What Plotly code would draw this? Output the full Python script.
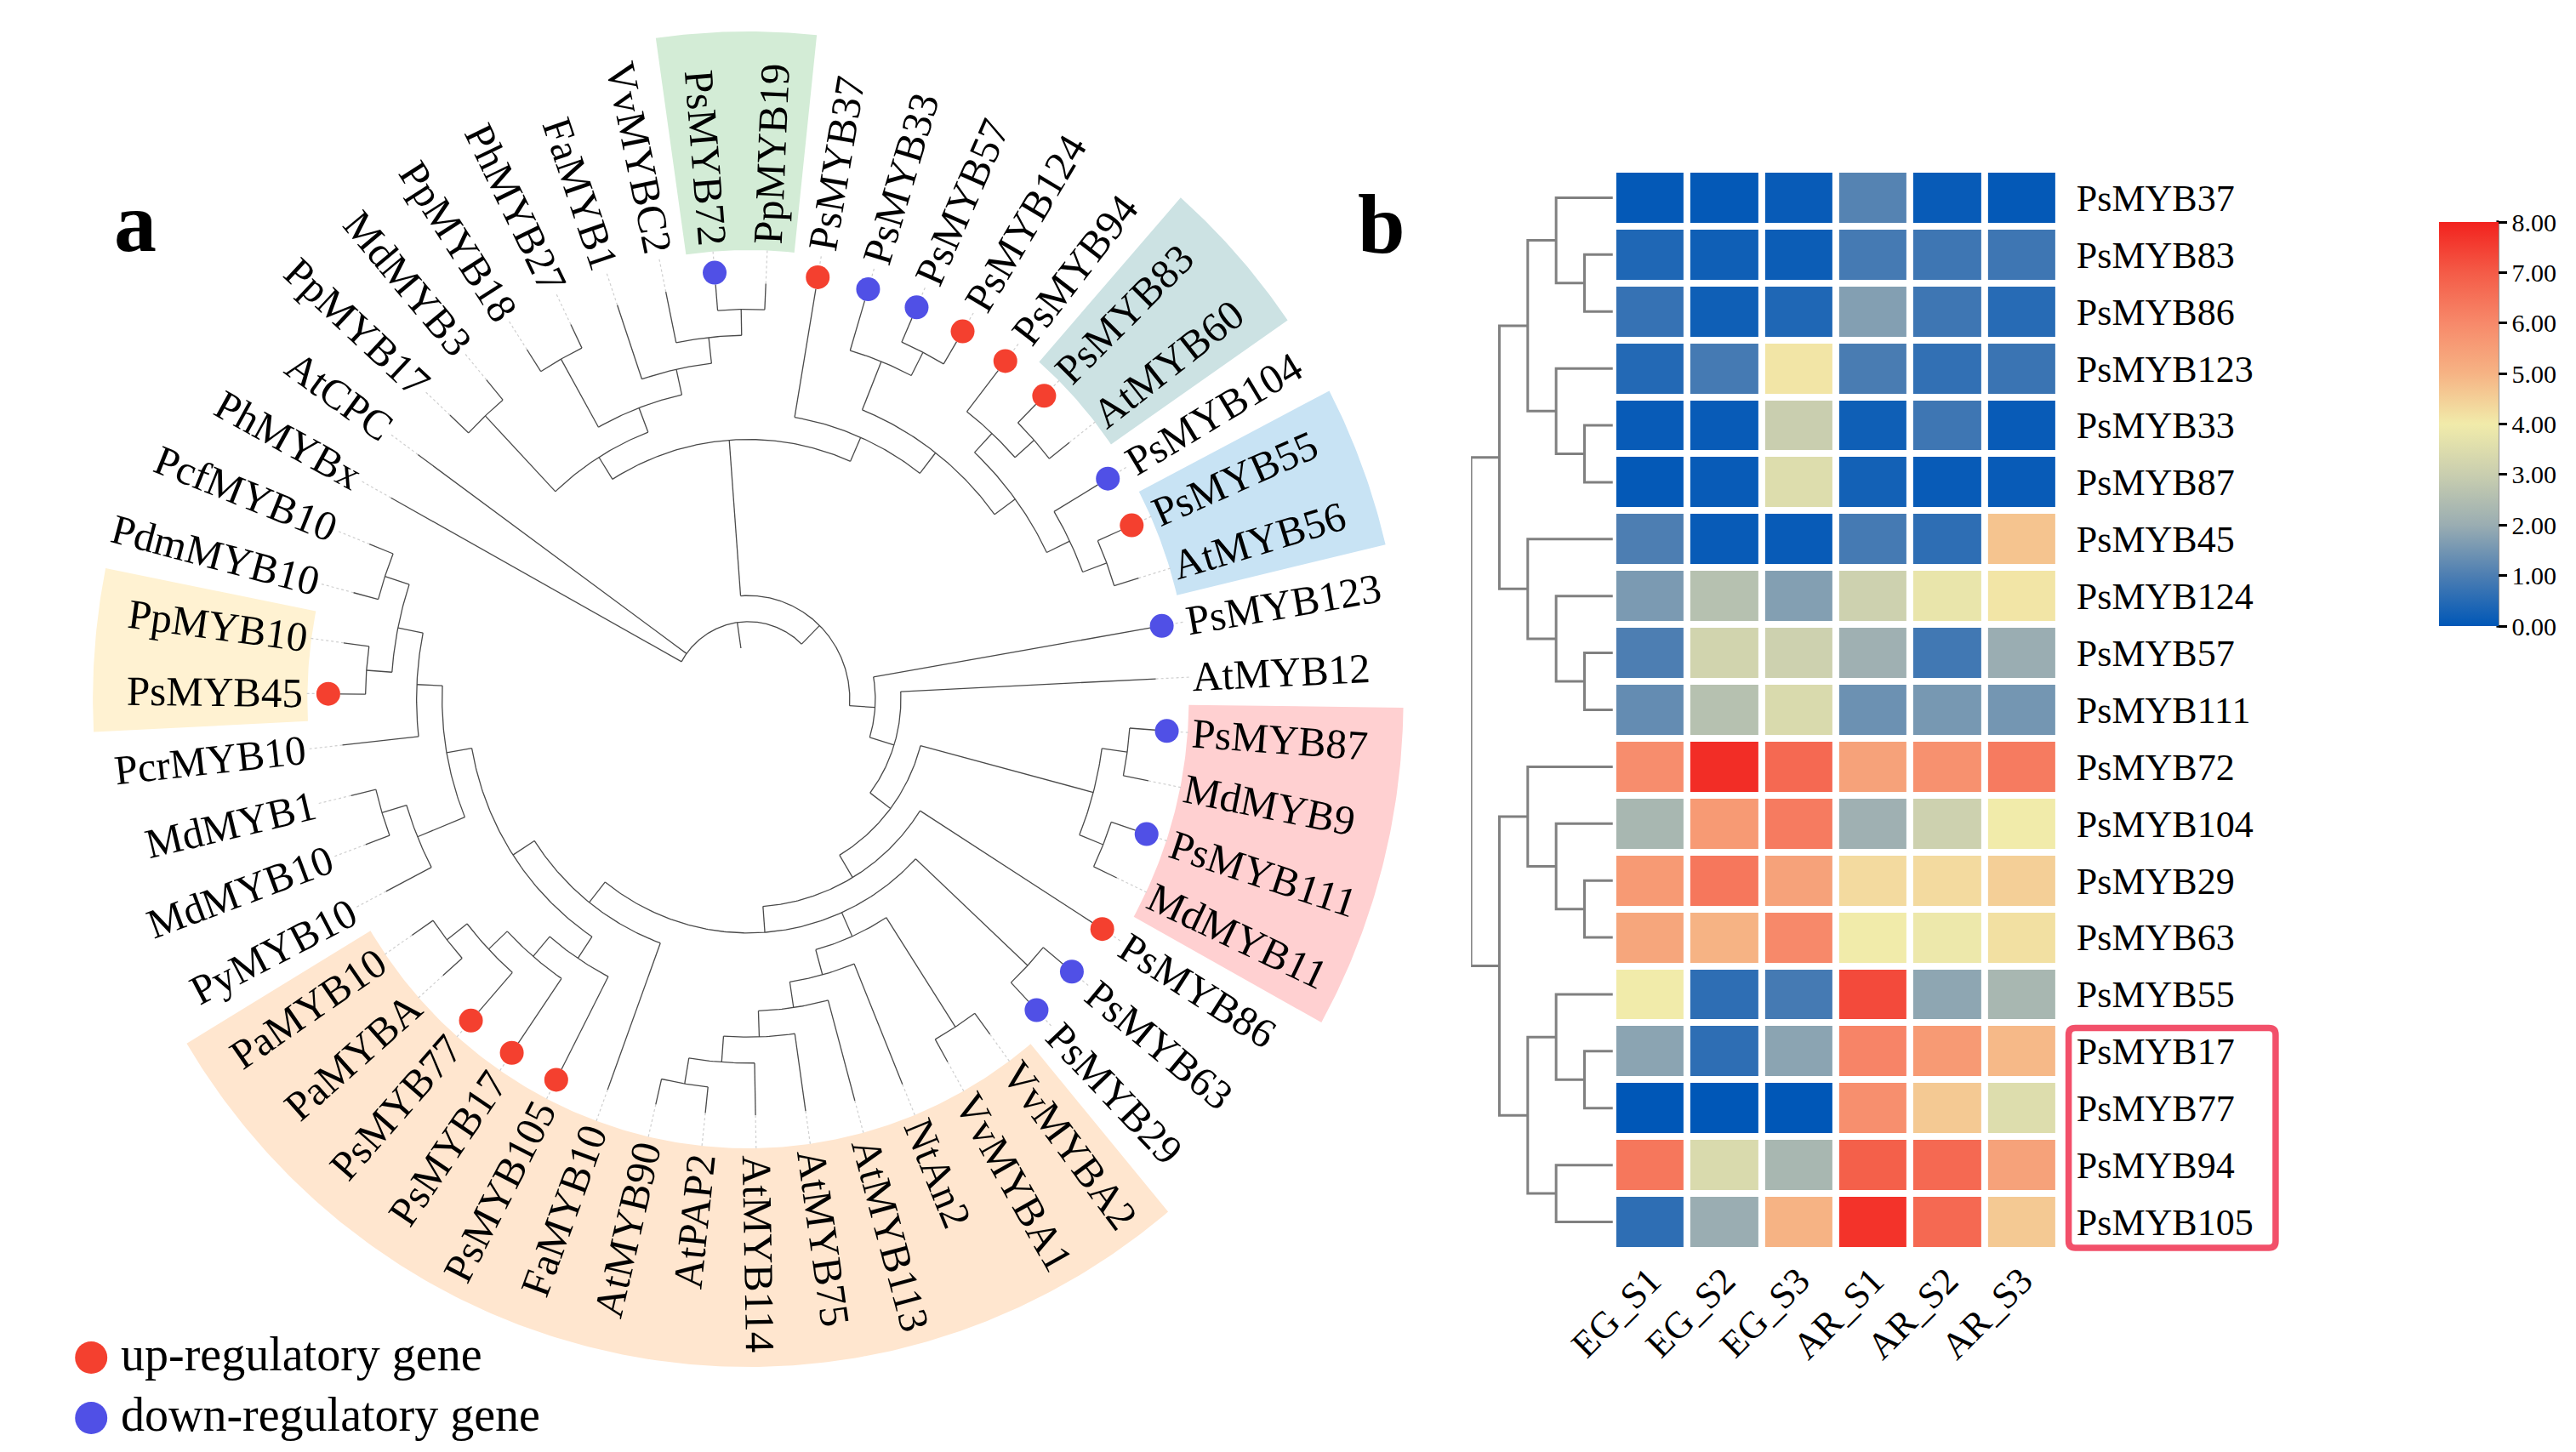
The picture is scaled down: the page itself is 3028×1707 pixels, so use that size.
import math
import plotly.graph_objects as go

W, H = 3028, 1707
SERIF = "Liberation Serif"

# =============================== DATA ===============================
# ---- panel a: cladogram (tips listed counter-clockwise in tree order)
tip_order = [
    "PcfMYB10", "PdmMYB10", "PpMYB10", "PsMYB45", "PcrMYB10", "MdMYB1", "MdMYB10",
    "PyMYB10", "PaMYB10", "PaMYBA", "PsMYB77", "PsMYB17", "PsMYB105", "FaMYB10",
    "AtMYB90", "AtPAP2", "AtMYB114", "AtMYB75", "AtMYB113", "NtAn2", "VvMYBA1",
    "VvMYBA2", "PsMYB29", "PsMYB63", "PsMYB86", "MdMYB11", "PsMYB111", "MdMYB9",
    "PsMYB87", "AtMYB12", "PsMYB123", "AtMYB56", "PsMYB55", "PsMYB104", "AtMYB60",
    "PsMYB83", "PsMYB94", "PsMYB124", "PsMYB57", "PsMYB33", "PsMYB37", "PpMYB19",
    "PsMYB72", "VvMYBC2", "FaMYB1", "PhMYB27", "PpMYB18", "MdMYB3", "PpMYB17",
    "AtCPC", "PhMYBx",
]
tree_newick = (
    "((PhMYBx,AtCPC,("
    "(((PpMYB17,MdMYB3),((PpMYB18,PhMYB27),(FaMYB1,(VvMYBC2,(PsMYB72,PpMYB19))))),"
    "(PsMYB37,((PsMYB33,(PsMYB57,PsMYB124)),((PsMYB94,(PsMYB83,AtMYB60)),"
    "(PsMYB104,(PsMYB55,AtMYB56)))))),"
    "(PsMYB123,(AtMYB12,(((PsMYB87,MdMYB9),(PsMYB111,MdMYB11)),(PsMYB86,"
    "((PsMYB63,PsMYB29),((((((PcfMYB10,PdmMYB10),(PpMYB10,PsMYB45)),PcrMYB10),"
    "((MdMYB1,MdMYB10),PyMYB10)),(PsMYB105,(PsMYB17,(PsMYB77,(PaMYBA,PaMYB10))))),FaMYB10),"
    "((VvMYBA2,VvMYBA1),(NtAn2,(AtMYB113,(AtMYB75,(AtMYB114,(AtMYB90,AtPAP2))))))))))))"
    ")));"
)
up_genes = ["PsMYB37", "PsMYB124", "PsMYB94", "PsMYB83", "PsMYB55", "PsMYB86",
            "PsMYB45", "PsMYB77", "PsMYB17", "PsMYB105"]
down_genes = ["PsMYB72", "PsMYB33", "PsMYB57", "PsMYB104", "PsMYB123", "PsMYB87",
              "PsMYB111", "PsMYB63", "PsMYB29"]
hilight_first = ["PpMYB19", "PsMYB83", "PsMYB55", "MdMYB11", "PpMYB10", "PaMYB10"]
hilight_last = ["PsMYB72", "AtMYB60", "AtMYB56", "PsMYB87", "PsMYB45", "VvMYBA2"]
hilight_color = ["#D3ECD6", "#CCE2E3", "#C8E3F4", "#FFD0D1", "#FFF2D2", "#FFE6CF"]
legend_labels = ["up-regulatory gene", "down-regulatory gene"]

# ---- panel b: heatmap
hm_genes = ["PsMYB37", "PsMYB83", "PsMYB86", "PsMYB123", "PsMYB33", "PsMYB87", "PsMYB45",
            "PsMYB124", "PsMYB57", "PsMYB111", "PsMYB72", "PsMYB104", "PsMYB29", "PsMYB63",
            "PsMYB55", "PsMYB17", "PsMYB77", "PsMYB94", "PsMYB105"]
hm_samples = ["EG_S1", "EG_S2", "EG_S3", "AR_S1", "AR_S2", "AR_S3"]
eg_s1 = [0.05, 0.40, 0.70, 0.45, 0.10, 0.05, 1.00, 1.60, 1.00, 1.30,
         5.90, 2.30, 5.60, 5.30, 4.00, 1.80, 0.00, 6.40, 0.60]
eg_s2 = [0.05, 0.20, 0.20, 0.90, 0.10, 0.10, 0.10, 2.60, 3.20, 2.60,
         7.80, 5.60, 6.40, 5.00, 0.60, 0.60, 0.00, 3.40, 2.00]
eg_s3 = [0.10, 0.15, 0.40, 4.10, 3.00, 3.50, 0.10, 1.70, 3.10, 3.40,
         6.70, 6.30, 5.40, 6.00, 0.90, 1.80, 0.00, 2.30, 5.00]
ar_s1 = [1.10, 0.90, 1.70, 0.95, 0.20, 0.25, 0.90, 3.10, 2.10, 1.40,
         5.40, 2.10, 4.30, 4.00, 7.30, 6.10, 5.85, 6.90, 7.70]
ar_s2 = [0.10, 0.80, 0.80, 0.65, 0.80, 0.10, 0.60, 3.80, 0.85, 1.55,
         5.80, 3.10, 4.30, 3.90, 1.85, 5.60, 4.60, 6.70, 6.70]
ar_s3 = [0.05, 0.80, 0.50, 0.75, 0.10, 0.10, 4.70, 4.10, 2.00, 1.50,
         6.30, 4.00, 4.50, 4.20, 2.30, 4.90, 3.50, 5.40, 4.60]
# row dendrogram merges: (left, right, height); merged nodes are named m0, m1, ...
hm_merges = [
    ("PsMYB83", "PsMYB86", 1), ("PsMYB37", "m0", 2), ("PsMYB33", "PsMYB87", 1),
    ("PsMYB123", "m2", 2), ("m1", "m3", 3), ("PsMYB57", "PsMYB111", 1),
    ("PsMYB124", "m5", 2), ("PsMYB45", "m6", 3), ("m4", "m7", 4),
    ("PsMYB29", "PsMYB63", 1), ("PsMYB104", "m9", 2), ("PsMYB72", "m10", 3),
    ("PsMYB17", "PsMYB77", 1), ("PsMYB55", "m12", 2), ("PsMYB94", "PsMYB105", 2),
    ("m13", "m14", 3), ("m11", "m15", 4), ("m8", "m16", 5),
]
boxed_genes = ["PsMYB17", "PsMYB77", "PsMYB94", "PsMYB105"]
cb_ticks = [0, 1, 2, 3, 4, 5, 6, 7, 8]

# ============================== LAYOUT ==============================
CX, CY = 830, 814          # tree centre (px)
TIP_START = 158.1          # angle of first tip (deg, ccw)
R_TIP, R_STEP = 489, 30.6  # cladogram radii
R_DOT, R_LABEL = 503, 535
R_HL_IN, R_HL_OUT = 528, 785
LABEL_SIZE = 49

HM_X0, HM_X1 = 1866, 2400
HM_Y0, HM_Y1 = 191, 1462
DEN_X0 = 1696

TIMES_W = {"P": .556, "s": .389, "M": .889, "Y": .722, "B": .667, "A": .722, "t": .278,
           "C": .667, "h": .5, "x": .5, "d": .5, "c": .444, "f": .333, "r": .333, "y": .5,
           "a": .444, "F": .556, "V": .722, "v": .5, "N": .722, "n": .5, "m": .778,
           "p": .5, "e": .444, "g": .5, "u": .5, "l": .278, "o": .5, "-": .333, " ": .25}


def text_w(s, size):
    return sum(TIMES_W.get(ch, 0.5) for ch in s) * size


def parse_newick(s):
    s = s.strip().rstrip(";")
    pos = 0

    def read():
        nonlocal pos
        if s[pos] == "(":
            pos += 1
            kids = [read()]
            while s[pos] == ",":
                pos += 1
                kids.append(read())
            pos += 1
            return {"name": None, "kids": kids}
        st = pos
        while pos < len(s) and s[pos] not in ",()":
            pos += 1
        return {"name": s[st:pos], "kids": []}

    return read()


root = parse_newick(tree_newick)
d_ang = 360.0 / len(tip_order)
tip_ang = {n: TIP_START + i * d_ang for i, n in enumerate(tip_order)}


def place(nd):
    if not nd["kids"]:
        nd["h"] = 0
        nd["a"] = tip_ang[nd["name"]]
    else:
        for k in nd["kids"]:
            place(k)
        nd["h"] = 1 + max(k["h"] for k in nd["kids"])
        angs = [k["a"] for k in nd["kids"]]
        nd["a"] = 0.5 * (min(angs) + max(angs))
    nd["r"] = R_TIP - nd["h"] * R_STEP


place(root)


def pol(r, a):
    t = math.radians(a)
    return CX + r * math.cos(t), CY - r * math.sin(t)


def arc(r, a0, a1, step=0.5):
    n = max(2, int(abs(a1 - a0) / step) + 1)
    return [pol(r, a0 + (a1 - a0) * j / n) for j in range(n + 1)]


bx, by = [], []


def draw(nd):
    if not nd["kids"]:
        return
    angs = [k["a"] for k in nd["kids"]]
    lo, hi = min(angs), max(angs)
    if hi - lo > 1e-9:
        for x, y in arc(nd["r"], lo, hi):
            bx.append(x)
            by.append(y)
        bx.append(None)
        by.append(None)
    for k in nd["kids"]:
        x0, y0 = pol(nd["r"], k["a"])
        x1, y1 = pol(k["r"], k["a"])
        bx.extend([x0, x1, None])
        by.extend([y0, y1, None])
        draw(k)


draw(root)

fig = go.Figure()

# highlight sectors
for f, l, col in zip(hilight_first, hilight_last, hilight_color):
    a0 = min(tip_ang[f], tip_ang[l]) - d_ang / 2
    a1 = max(tip_ang[f], tip_ang[l]) + d_ang / 2
    pts = arc(R_HL_OUT, a0, a1) + arc(R_HL_IN, a1, a0)
    fig.add_trace(go.Scatter(x=[p[0] for p in pts], y=[p[1] for p in pts], mode="lines",
                             fill="toself", fillcolor=col, line=dict(width=0),
                             hoverinfo="skip", xaxis="x", yaxis="y"))

# dotted connectors tip -> label
cx_, cy_ = [], []
for n in tip_order:
    x0, y0 = pol(R_TIP, tip_ang[n])
    x1, y1 = pol(R_LABEL - 4, tip_ang[n])
    cx_ += [x0, x1, None]
    cy_ += [y0, y1, None]
fig.add_trace(go.Scatter(x=cx_, y=cy_, mode="lines",
                         line=dict(color="#cfcfcf", width=1.2, dash="dot"),
                         hoverinfo="skip", xaxis="x", yaxis="y"))

# branches
fig.add_trace(go.Scatter(x=bx, y=by, mode="lines", line=dict(color="#4a4a4a", width=1.3),
                         hoverinfo="skip", xaxis="x", yaxis="y"))

# tip points
UP_COL, DOWN_COL = "#F4402F", "#5050E6"
for genes, col in ((up_genes, UP_COL), (down_genes, DOWN_COL)):
    pts = [pol(R_DOT, tip_ang[g]) for g in genes]
    fig.add_trace(go.Scatter(x=[p[0] for p in pts], y=[p[1] for p in pts], mode="markers",
                             marker=dict(size=28, color=col, line=dict(width=0)),
                             hoverinfo="skip", xaxis="x", yaxis="y"))

annotations = []
for n in tip_order:
    a = tip_ang[n]
    w = text_w(n, LABEL_SIZE)
    x, y = pol(R_LABEL + w / 2, a)
    am = a % 360
    ang = 180 - am if 90 < am < 270 else -am
    if ang <= -180:
        ang += 360
    annotations.append(dict(x=x, y=y, xref="x", yref="y", text=n, textangle=ang,
                            showarrow=False, xanchor="center", yanchor="middle",
                            font=dict(family=SERIF, size=LABEL_SIZE, color="black")))

# legend (panel a)
leg_y = [1588, 1659]
fig.add_trace(go.Scatter(x=[43, 43], y=leg_y, mode="markers",
                         marker=dict(size=38, color=[UP_COL, DOWN_COL]),
                         hoverinfo="skip", xaxis="x", yaxis="y"))
for t, yy in zip(legend_labels, leg_y):
    annotations.append(dict(x=76, y=yy - 4, xref="x", yref="y", text=t, showarrow=False,
                            xanchor="left", yanchor="middle",
                            font=dict(family=SERIF, size=56, color="black")))

# panel letters
annotations.append(dict(x=96, y=253, xref="x", yref="y", text="<b>a</b>", showarrow=False,
                        xanchor="center", yanchor="middle",
                        font=dict(family=SERIF, size=100, color="black")))
annotations.append(dict(x=1589, y=255, xref="x", yref="y", text="<b>b</b>", showarrow=False,
                        xanchor="center", yanchor="middle",
                        font=dict(family=SERIF, size=100, color="black")))

# ---------------- heatmap ----------------
hm_cols = [eg_s1, eg_s2, eg_s3, ar_s1, ar_s2, ar_s3]
z = [[col[i] for col in hm_cols] for i in range(len(hm_genes))]
colorscale = [[0.0, "#0057B7"], [0.125, "#4D7EB2"], [0.25, "#9AADB2"], [0.375, "#C9CEAF"],
              [0.5, "#F1EBAA"], [0.625, "#F6B384"], [0.75, "#F7896A"], [0.875, "#F45B47"],
              [1.0, "#F2221E"]]
CB_X0, CB_TOP, CB_BOT, CB_TH = 2856, 253, 728, 70
fig.add_trace(go.Heatmap(
    z=z, x=list(range(len(hm_samples))), y=list(range(len(hm_genes))),
    xaxis="x2", yaxis="y2", colorscale=colorscale, zmin=0, zmax=8,
    xgap=8, ygap=8, hoverinfo="skip",
    colorbar=dict(x=CB_X0 / W, xanchor="left", y=1 - CB_TOP / H, yanchor="top",
                  len=(CB_BOT - CB_TOP) / H, lenmode="fraction", thickness=CB_TH,
                  thicknessmode="pixels", xpad=0, ypad=0, outlinewidth=0,
                  tickvals=cb_ticks, ticktext=["%.2f" % v for v in cb_ticks],
                  ticks="outside", ticklen=10, tickwidth=3, tickcolor="black",
                  tickfont=dict(family=SERIF, size=30, color="black")),
))

# row dendrogram
rpos = {g: i for i, g in enumerate(hm_genes)}
rh = {g: 0 for g in hm_genes}
dxs, dys = [], []
for i, (a, b, h) in enumerate(hm_merges):
    ya, yb = rpos[a], rpos[b]
    dxs += [rh[a], h, h, rh[b], None]
    dys += [ya, ya, yb, yb, None]
    rpos["m%d" % i] = (ya + yb) / 2
    rh["m%d" % i] = h
fig.add_trace(go.Scatter(x=dxs, y=dys, mode="lines", line=dict(color="#808080", width=3),
                         hoverinfo="skip", xaxis="x3", yaxis="y3"))

# red box around highlighted genes (rounded corners)
rows = [hm_genes.index(g) for g in boxed_genes]
pitch = (HM_Y1 - HM_Y0) / len(hm_genes)
bx0, bx1 = 2412, 2660
by0 = HM_Y0 + min(rows) * pitch + 6
by1 = HM_Y0 + (max(rows) + 1) * pitch - 3
rc = 8


def P(x, y):
    return "%.6f,%.6f" % (x / W, 1 - y / H)


box_path = ("M " + P(bx0 + rc, by0) + " L " + P(bx1 - rc, by0) +
            " Q " + P(bx1, by0) + " " + P(bx1, by0 + rc) +
            " L " + P(bx1, by1 - rc) + " Q " + P(bx1, by1) + " " + P(bx1 - rc, by1) +
            " L " + P(bx0 + rc, by1) + " Q " + P(bx0, by1) + " " + P(bx0, by1 - rc) +
            " L " + P(bx0, by0 + rc) + " Q " + P(bx0, by0) + " " + P(bx0 + rc, by0) + " Z")
shapes = [
    dict(type="path", xref="paper", yref="paper", path=box_path,
         line=dict(color="#F2506A", width=7.5), fillcolor="rgba(0,0,0,0)"),
    dict(type="line", xref="paper", yref="paper", x0=(CB_X0 + CB_TH) / W,
         x1=(CB_X0 + CB_TH) / W, y0=1 - CB_BOT / H - 0.001, y1=1 - CB_TOP / H + 0.001,
         line=dict(color="black", width=3)),
]

hm_ydom = [1 - HM_Y1 / H, 1 - HM_Y0 / H]
fig.update_layout(
    width=W, height=H, margin=dict(l=0, r=0, t=0, b=0),
    paper_bgcolor="white", plot_bgcolor="rgba(0,0,0,0)", showlegend=False,
    font=dict(family=SERIF, color="black"),
    xaxis=dict(domain=[0, 1], range=[0, W], visible=False, fixedrange=True),
    yaxis=dict(domain=[0, 1], range=[H, 0], visible=False, fixedrange=True),
    xaxis2=dict(domain=[HM_X0 / W, HM_X1 / W], range=[-0.5, len(hm_samples) - 0.5],
                anchor="y2", tickvals=list(range(len(hm_samples))), ticktext=hm_samples,
                tickangle=-45, tickfont=dict(family=SERIF, size=44, color="black"),
                showgrid=False, zeroline=False, showline=False, ticks="",
                ticklabelstandoff=0),
    yaxis2=dict(domain=hm_ydom, range=[len(hm_genes) - 0.5, -0.5], anchor="x2",
                side="right", tickvals=list(range(len(hm_genes))), ticktext=hm_genes,
                tickfont=dict(family=SERIF, size=44, color="black"),
                showgrid=False, zeroline=False, showline=False, ticks="",
                ticklabelstandoff=20),
    xaxis3=dict(domain=[DEN_X0 / W, HM_X0 / W], range=[5, 0], anchor="y3", visible=False),
    yaxis3=dict(domain=hm_ydom, range=[len(hm_genes) - 0.5, -0.5], anchor="x3",
                visible=False),
    annotations=annotations, shapes=shapes,
)

fig.write_html("out.html")
